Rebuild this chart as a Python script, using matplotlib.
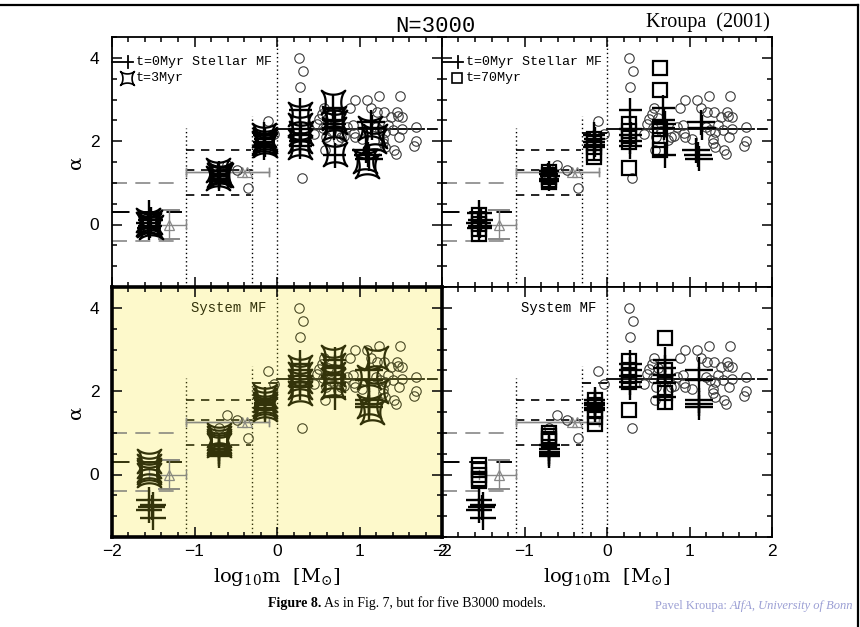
import numpy as np
import matplotlib
matplotlib.use('Agg')
import matplotlib.pyplot as plt
from matplotlib.path import Path
from matplotlib.lines import Line2D
from matplotlib.ticker import MultipleLocator

# ---------------- data ----------------
# observational alpha values (open circles), same in every panel
obs_x = [-0.70, -0.61, -0.49, -0.355, -0.105, -0.04,
         0.27, 0.31, 0.28, 0.30,
         0.45, 0.49, 0.51, 0.54, 0.565, 0.56, 0.59, 0.58, 0.62, 0.66,
         0.74, 0.77, 0.81, 0.89, 0.92, 0.93, 0.95, 0.95, 1.03, 1.09,
         1.14, 1.21, 1.24, 1.25, 1.29, 1.29, 1.31, 1.31, 1.30, 1.38,
         1.40, 1.42, 1.44, 1.45, 1.47, 1.48, 1.495, 1.51, 1.51, 1.66,
         1.68, 1.68, 0.85, 1.20, 1.35]
obs_y = [1.12, 1.42, 1.30, 0.88, 2.48, 2.18,
         4.00, 3.69, 3.29, 1.12,
         2.18, 2.42, 2.53, 2.66, 2.80, 2.32, 2.10, 1.80, 2.55, 2.25,
         2.04, 2.09, 2.12, 2.80, 2.40, 2.20, 2.10, 2.99, 2.06, 3.00,
         2.80, 2.69, 3.09, 2.28, 2.05, 1.96, 1.86, 2.21, 2.69, 2.58,
         2.28, 1.80, 1.70, 2.71, 2.61, 2.10, 3.09, 2.58, 2.29, 1.89,
         2.00, 2.34, 2.35, 2.35, 2.40]

# triangles with error bars
tri_x = [-1.31, -0.42, -0.36]
tri_y = [0.00, 1.26, 1.26]
tri_xlo = [-1.55, -1.10, -1.10]
tri_xhi = [-1.10, -0.10, -0.10]
tri_ylo = [-0.35, 1.16, 1.16]
tri_yhi = [0.34, 1.36, 1.36]

# Kroupa (2001) IMF ranges
bin_lo = [-2.0, -1.1, -0.3, 0.0]
bin_hi = [-1.1, -0.3, 0.0, 2.0]
alpha_mean = [0.3, 1.3, 2.3, 2.3]
alpha_up = [1.0, 1.8, 2.2, 2.3]
alpha_dn = [-0.4, 0.7, 2.2, 2.3]
dotted_x = [-1.1, -0.3, 0.0]
dotted_top = [2.32, 2.6, 4.5]

# t=0 Myr stellar MF (crosses), top panels
st0_x = [-1.55, -1.53, -1.56, -1.54, -1.55,
         -0.70, -0.71, -0.69, -0.70, -0.70,
         -0.16, -0.15, -0.16, -0.15, -0.16,
         0.28, 0.28, 0.29, 0.28, 0.28,
         0.68, 0.69, 0.70, 0.69, 0.70,
         1.14, 1.15, 1.08, 1.10, 1.12]
st0_y = [0.28, 0.12, 0.03, -0.03, -0.08,
         1.28, 1.22, 1.16, 1.10, 1.05,
         2.15, 2.05, 1.98, 1.92, 1.85,
         2.74, 2.30, 2.15, 2.00, 1.88,
         2.80, 2.52, 2.42, 2.32, 1.66,
         2.45, 2.32, 1.78, 1.68, 1.58]
st0_xerr = [0.15, 0.15, 0.15, 0.15, 0.15,
            0.12, 0.12, 0.12, 0.12, 0.12,
            0.13, 0.13, 0.13, 0.13, 0.13,
            0.14, 0.14, 0.14, 0.14, 0.14,
            0.14, 0.14, 0.14, 0.14, 0.14,
            0.17, 0.17, 0.17, 0.17, 0.17]
st0_yerr = [0.30, 0.30, 0.30, 0.30, 0.30,
            0.25, 0.25, 0.25, 0.25, 0.25,
            0.30, 0.30, 0.30, 0.30, 0.30,
            0.30, 0.30, 0.30, 0.30, 0.30,
            0.30, 0.30, 0.30, 0.30, 0.30,
            0.30, 0.30, 0.30, 0.30, 0.30]

# t=3 Myr stellar MF (stars), top-left
st3_x = [-1.56, -1.54, -1.55, -1.53, -1.56,
         -0.71, -0.69, -0.70, -0.72, -0.68,
         -0.16, -0.15, -0.14, -0.16, -0.15,
         0.28, 0.28, 0.29, 0.28, 0.28,
         0.68, 0.69, 0.70, 0.69, 0.70,
         1.13, 1.19, 1.17, 1.07, 1.09]
st3_y = [0.10, 0.05, 0.00, -0.05, 0.02,
         1.30, 1.22, 1.18, 1.12, 1.20,
         2.15, 2.05, 2.00, 1.95, 1.90,
         2.65, 2.40, 2.20, 2.00, 1.85,
         2.95, 2.55, 2.45, 2.30, 1.70,
         2.32, 2.12, 2.00, 1.52, 1.40]

# t=70 Myr stellar MF (squares), top-right
st70_x = [-1.55, -1.55, -1.55, -1.55, -1.55,
          -0.70, -0.70, -0.70, -0.70, -0.70,
          -0.16, -0.16, -0.16, -0.16, -0.16,
          0.27, 0.27, 0.27, 0.27, 0.27,
          0.64, 0.64, 0.64, 0.64, 0.64]
st70_y = [0.22, 0.10, 0.02, -0.10, -0.22,
          1.25, 1.20, 1.14, 1.08, 1.02,
          2.05, 1.95, 1.85, 1.72, 1.62,
          2.42, 2.25, 2.12, 1.98, 1.35,
          3.75, 3.22, 2.30, 2.02, 1.80]

# t=0 Myr system MF (crosses), bottom panels
sy0_x = [-1.55, -1.50, -1.52, -1.55, -1.50,
         -0.70, -0.70, -0.70, -0.70, -0.70,
         -0.15, -0.15, -0.15, -0.15, -0.15,
         0.28, 0.28, 0.28, 0.28, 0.28,
         0.70, 0.70, 0.70, 0.70, 0.70,
         1.12, 1.12, 1.12, 1.12, 1.12]
sy0_y = [-0.60, -0.72, -0.78, -0.86, -1.04,
         0.70, 0.62, 0.55, 0.50, 0.45,
         1.80, 1.72, 1.66, 1.60, 1.55,
         2.66, 2.50, 2.36, 2.22, 2.10,
         2.76, 2.56, 2.40, 2.20, 1.85,
         2.52, 2.28, 1.78, 1.70, 1.62]
sy0_xerr = [0.16, 0.16, 0.16, 0.16, 0.16,
            0.13, 0.13, 0.13, 0.13, 0.13,
            0.13, 0.13, 0.13, 0.13, 0.13,
            0.14, 0.14, 0.14, 0.14, 0.14,
            0.14, 0.14, 0.14, 0.14, 0.14,
            0.17, 0.17, 0.17, 0.17, 0.17]
sy0_yerr = [0.30, 0.30, 0.30, 0.30, 0.30,
            0.30, 0.30, 0.30, 0.30, 0.30,
            0.30, 0.30, 0.30, 0.30, 0.30,
            0.32, 0.32, 0.32, 0.32, 0.32,
            0.30, 0.30, 0.30, 0.30, 0.30,
            0.30, 0.30, 0.30, 0.30, 0.30]

# t=3 Myr system MF (stars), bottom-left
sy3_x = [-1.55, -1.55, -1.55, -1.55, -1.55,
         -0.70, -0.70, -0.70, -0.70, -0.70,
         -0.15, -0.15, -0.15, -0.15, -0.15,
         0.28, 0.28, 0.28, 0.28, 0.28,
         0.68, 0.68, 0.68, 0.68, 0.68,
         1.20, 1.12, 1.20, 1.12, 1.15]
sy3_y = [0.32, 0.20, 0.10, 0.05, -0.02,
         0.95, 0.88, 0.80, 0.75, 0.70,
         1.88, 1.78, 1.70, 1.65, 1.58,
         2.58, 2.42, 2.25, 2.10, 1.95,
         2.82, 2.62, 2.42, 2.26, 2.10,
         2.80, 2.35, 2.00, 1.65, 1.50]

# t=70 Myr system MF (squares), bottom-right
sy70_x = [-1.55, -1.55, -1.55, -1.55, -1.55,
          -0.70, -0.70, -0.70, -0.70,
          -0.14, -0.14, -0.14, -0.14, -0.14,
          0.27, 0.27, 0.27, 0.27, 0.27,
          0.70, 0.70, 0.70, 0.70, 0.70]
sy70_y = [0.22, 0.10, 0.00, -0.10, -0.15,
          1.00, 0.92, 0.86, 0.80,
          1.80, 1.66, 1.52, 1.38, 1.22,
          2.72, 2.52, 2.36, 2.22, 1.55,
          3.28, 2.50, 2.40, 1.95, 1.75]

x_ticklabels = ['\u22122', '\u22121', '0', '1', '2']
y_ticklabels = ['0', '2', '4']

# ---------------- styling ----------------
W, H = 860, 627
fig = plt.figure(figsize=(W / 100, H / 100), dpi=100)
fig.patch.set_facecolor('white')

def rect(x0, y0, x1, y1):
    return [x0 / W, 1 - y1 / H, (x1 - x0) / W, (y1 - y0) / H]

# concave four-pointed star marker (points on the diagonals)
t = np.linspace(0, 2 * np.pi, 201)
p = 3.2
cs = np.sign(np.cos(t)) * np.abs(np.cos(t)) ** p
sn = np.sign(np.sin(t)) * np.abs(np.sin(t)) ** p
xr = (cs - sn) / np.sqrt(2)
yr = (cs + sn) / np.sqrt(2)
star_path = Path(np.column_stack([xr, yr]), closed=True)

OLIVE = '#33330a'
YELLOW = '#fdf9cb'

def setup_axes(ax, left_labels, bottom_labels, lw=1.3):
    ax.set_xlim(-2, 2)
    ax.set_ylim(-1.5, 4.5)
    ax.xaxis.set_major_locator(MultipleLocator(1))
    ax.xaxis.set_minor_locator(MultipleLocator(0.2))
    ax.yaxis.set_major_locator(MultipleLocator(2))
    ax.yaxis.set_minor_locator(MultipleLocator(0.5))
    ax.tick_params(which='both', direction='in', top=True, right=True,
                   width=1.1, color='black')
    ax.tick_params(which='major', length=7)
    ax.tick_params(which='minor', length=3.5)
    for s in ax.spines.values():
        s.set_linewidth(lw)
    if bottom_labels:
        ax.set_xticks([-2, -1, 0, 1, 2])
        ax.set_xticklabels(x_ticklabels, fontsize=12.5, family='Liberation Sans')
        ax.tick_params(axis='x', pad=5)
        ax.set_xlabel(r'$\mathregular{log_{10}m\ \ [M_{\odot}]}$', fontsize=14,
                      family='DejaVu Serif', labelpad=5)
    else:
        ax.set_xticklabels([])
    if left_labels:
        ax.set_yticks([0, 2, 4])
        ax.set_yticklabels(y_ticklabels, fontsize=12.5, family='Liberation Sans')
        ax.tick_params(axis='y', pad=9)
        ax.set_ylabel('\u03b1', fontsize=14, family='DejaVu Serif', labelpad=4)
    else:
        ax.set_yticklabels([])

def draw_reference(ax, c):
    gray = '#8a8a80' if c != 'black' else '#888888'
    for xv, top in zip(dotted_x, dotted_top):
        ax.plot([xv, xv], [-1.5, top], ls=(0, (1, 2)), color=c, lw=1.0, zorder=1)
    # bin 1
    ax.plot([bin_lo[0], bin_hi[0] - 0.05], [alpha_up[0]] * 2, color=gray, lw=1.2,
            dashes=(9, 5), zorder=1)
    ax.plot([bin_lo[0], bin_hi[0] - 0.05], [alpha_dn[0]] * 2, color=gray, lw=1.2,
            dashes=(9, 5), zorder=1)
    ax.plot([bin_lo[0], bin_hi[0] - 0.05], [alpha_mean[0]] * 2, color=c, lw=1.4,
            dashes=(9, 5), zorder=1)
    # bin 2
    ax.plot([bin_lo[1], bin_hi[1] - 0.02], [alpha_up[1]] * 2, color=c, lw=1.2,
            dashes=(5, 4), zorder=1)
    ax.plot([bin_lo[1], bin_hi[1] - 0.02], [alpha_dn[1]] * 2, color=c, lw=1.2,
            dashes=(5, 4), zorder=1)
    ax.plot([bin_lo[1], bin_hi[1]], [alpha_mean[1]] * 2, color=c, lw=1.2,
            dashes=(5, 4), zorder=1)
    # bin 3
    ax.plot([bin_lo[2], bin_hi[2]], [alpha_up[2]] * 2, color=c, lw=1.3,
            dashes=(5, 4), zorder=1)
    # bin 4
    ax.plot([bin_lo[3], 1.78], [alpha_mean[3]] * 2, color=c, lw=1.3, zorder=1)
    ax.plot([1.82, bin_hi[3]], [alpha_mean[3]] * 2, color=c, lw=1.3,
            dashes=(6, 3), zorder=1)
    # triangles with error bars
    for i in range(len(tri_x)):
        ax.plot([tri_xlo[i], tri_xhi[i]], [tri_y[i]] * 2, color=gray, lw=1.0, zorder=2)
        ax.plot([tri_xlo[i]] * 2, [tri_y[i] - 0.1, tri_y[i] + 0.1], color=gray, lw=1.0, zorder=2)
        ax.plot([tri_xhi[i]] * 2, [tri_y[i] - 0.1, tri_y[i] + 0.1], color=gray, lw=1.0, zorder=2)
    ax.plot([tri_x[0]] * 2, [tri_ylo[0], tri_yhi[0]], color=gray, lw=1.0, zorder=2)
    ax.plot([tri_x[0] - 0.12, tri_x[0] + 0.12], [tri_ylo[0]] * 2, color=gray, lw=1.4, zorder=2)
    ax.plot([tri_x[0] - 0.12, tri_x[0] + 0.12], [tri_yhi[0]] * 2, color=gray, lw=1.4, zorder=2)
    ax.plot(tri_x, tri_y, ls='none', marker='^', ms=7, mfc='none', mec=gray,
            mew=0.9, zorder=2)
    # observational circles
    ax.plot(obs_x, obs_y, ls='none', marker='o', ms=6.8, mfc='none',
            mec='#3a3a3a' if c == 'black' else '#4a4a25', mew=0.8, zorder=3)

def draw_sim(ax, c, x0, y0, xe, ye, mx, my, marker, ms):
    ax.errorbar(x0, y0, xerr=xe, yerr=ye, fmt='none', ecolor=c,
                elinewidth=1.7, capsize=0, zorder=4)
    ax.plot(mx, my, ls='none', marker=marker, ms=ms, mfc='none', mec=c,
            mew=1.6, zorder=5)

XL0, XL1, XR1 = 112, 442, 772
YT0, YT1, YB1 = 37, 287, 537

ax_tl = fig.add_axes(rect(XL0, YT0, XL1, YT1))
ax_tr = fig.add_axes(rect(XL1, YT0, XR1, YT1))
ax_bl = fig.add_axes(rect(XL0, YT1, XL1, YB1))
ax_br = fig.add_axes(rect(XL1, YT1, XR1, YB1))
ax_bl.set_facecolor(YELLOW)
ax_bl.set_zorder(3)

setup_axes(ax_tl, True, False)
setup_axes(ax_tr, False, False)
setup_axes(ax_bl, True, True, lw=2.6)
setup_axes(ax_br, False, True)

for ax, c in [(ax_tl, 'black'), (ax_tr, 'black'), (ax_bl, OLIVE), (ax_br, 'black')]:
    draw_reference(ax, c)

draw_sim(ax_tl, 'black', st0_x, st0_y, st0_xerr, st0_yerr, st3_x, st3_y, star_path, 17)
draw_sim(ax_tr, 'black', st0_x, st0_y, st0_xerr, st0_yerr, st70_x, st70_y, 's', 9.5)
draw_sim(ax_bl, OLIVE, sy0_x, sy0_y, sy0_xerr, sy0_yerr, sy3_x, sy3_y, star_path, 17)
draw_sim(ax_br, 'black', sy0_x, sy0_y, sy0_xerr, sy0_yerr, sy70_x, sy70_y, 's', 9.5)

# legends inside the top panels
for ax, lab, mk, ms in [(ax_tl, 't=3Myr', star_path, 10), (ax_tr, 't=70Myr', 's', 7)]:
    ax.plot([0.0, 0.065], [0.90, 0.90], transform=ax.transAxes, color='black', lw=1.3,
            clip_on=False, zorder=6)
    ax.plot([0.048, 0.048], [0.875, 0.925], transform=ax.transAxes, color='black', lw=1.3,
            zorder=6)
    ax.text(0.072, 0.90, 't=0Myr Stellar MF', transform=ax.transAxes, fontsize=9.6,
            family='Liberation Mono', va='center', ha='left', zorder=6)
    ax.plot([0.045], [0.835], transform=ax.transAxes, marker=mk, ms=ms, mfc='none',
            mec='black', mew=1.2, zorder=6)
    ax.text(0.072, 0.835, lab, transform=ax.transAxes, fontsize=9.6,
            family='Liberation Mono', va='center', ha='left', zorder=6)

for ax, c in [(ax_bl, OLIVE), (ax_br, 'black')]:
    ax.text(0.355, 0.915, 'System MF', transform=ax.transAxes, fontsize=10,
            family='Liberation Mono', va='center', ha='center', color=c, zorder=6)

# titles and captions
fig.text(435 / W, 1 - 27 / H, 'N=3000', fontsize=16, family='Liberation Mono',
         ha='center', va='center')
fig.text(770 / W, 1 - 22 / H, 'Kroupa  (2001)', fontsize=14.5, family='Liberation Serif',
         ha='right', va='center')
cap1 = fig.text(268 / W, 1 - 607 / H, 'Figure 8.', fontsize=10, family='Liberation Serif',
                weight='bold', ha='left', va='baseline')
pk_color = '#9b9fd4'
pk1 = fig.text(655 / W, 1 - 609 / H, 'Pavel Kroupa: ', fontsize=9,
               family='Liberation Serif', ha='left', va='baseline', color=pk_color)

fig.canvas.draw()
r = fig.canvas.get_renderer()
bb1 = cap1.get_window_extent(r)
fig.text(bb1.x1 / W + 3 / W, 1 - 607 / H, 'As in Fig. 7, but for five B3000 models.',
         fontsize=10, family='Liberation Serif', ha='left', va='baseline')
bb2 = pk1.get_window_extent(r)
fig.text(bb2.x1 / W, 1 - 609 / H, 'AIfA, University of Bonn', fontsize=9,
         family='Liberation Serif', style='italic', ha='left', va='baseline',
         color=pk_color)

# slide frame
fig.add_artist(Line2D([0, 858 / W], [1 - 5 / H] * 2, transform=fig.transFigure,
                      color='black', lw=1.6))
fig.add_artist(Line2D([858 / W] * 2, [1 - 5 / H, 0], transform=fig.transFigure,
                      color='black', lw=1.6))

fig.savefig('out.png', dpi=100, facecolor='white')
